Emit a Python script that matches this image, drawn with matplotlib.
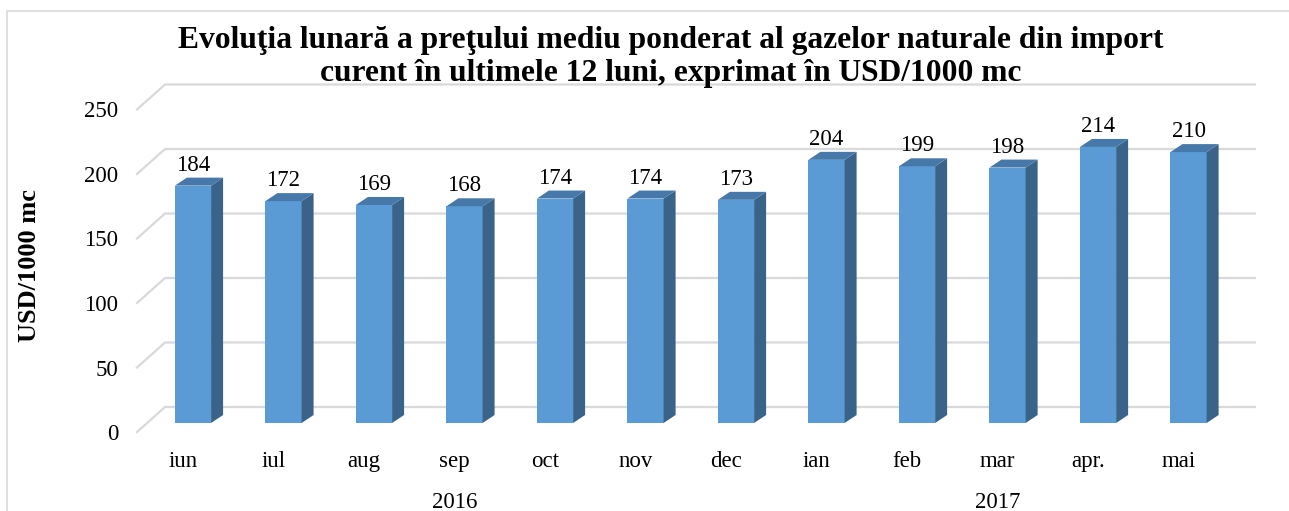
import numpy as np
import matplotlib
matplotlib.use("Agg")
import matplotlib.pyplot as plt
from matplotlib.patches import Polygon, Rectangle

# data
months = ["iun", "iul", "aug", "sep", "oct", "nov", "dec", "ian", "feb", "mar", "apr.", "mai"]
prices = [184, 172, 169, 168, 174, 174, 173, 204, 199, 198, 214, 210]
years = ["2016", "2017"]
year_spans = [(0, 6), (7, 11)]
yticks = [0, 50, 100, 150, 200, 250]

plt.rcParams["font.family"] = ["Liberation Serif", "DejaVu Serif"]

W, H = 1289, 511
fig = plt.figure(figsize=(W / 100, H / 100), dpi=100)

# front plane of the chart in pixels
left_px, right_px, zero_px, top_px = 137, 1255, 432, 100
px_per_unit = 1.29
ymax = (zero_px - top_px) / px_per_unit
ax = fig.add_axes([left_px / W, (H - zero_px) / H,
                   (right_px - left_px) / W, (zero_px - top_px) / H])
ax.set_xlim(-0.508, 11.845)
ax.set_ylim(0, ymax)
px_per_cat = (right_px - left_px) / (11.845 + 0.508)

def dx(px):
    return px / px_per_cat

def dy(px):
    return px / px_per_unit

front = "#5B9BD5"
side = "#3A6389"
top = "#4778AA"
grid = "#D9D9D9"

# slanted gridlines (floor/back wall)
x0, x1 = ax.get_xlim()
for v in yticks:
    ax.plot([x0, x0 + dx(28), x1], [v, v + dy(25), v + dy(25)],
            color=grid, lw=1.6, zorder=1, clip_on=False)

x = np.arange(len(months))
fdx, fdy = dx(10), dy(9)      # bar front face offset from front plane
ddx, ddy = dx(12), dy(8)      # bar depth
w = 0.4

ax.bar(x + fdx, prices, width=w, bottom=fdy, color=front, zorder=3, clip_on=False)
for xi, v in zip(x, prices):
    xl = xi + fdx - w / 2
    xr = xi + fdx + w / 2
    ax.add_patch(Polygon([(xr, fdy), (xr + ddx, fdy + ddy), (xr + ddx, fdy + ddy + v), (xr, fdy + v)],
                         closed=True, facecolor=side, edgecolor="none", zorder=3, clip_on=False))
    ax.add_patch(Polygon([(xl, fdy + v), (xr, fdy + v), (xr + ddx, fdy + v + ddy), (xl + ddx, fdy + v + ddy)],
                         closed=True, facecolor=top, edgecolor="none", zorder=3, clip_on=False))
    ax.annotate(str(v), xy=(xi + fdx, fdy + v + ddy), xytext=(0, 7), textcoords="offset pixels",
                ha="center", va="baseline", fontsize=16.5, zorder=4)

ax.set_yticks(yticks)
ax.set_xticks(x, months)
ax.tick_params(axis="y", length=0, pad=13.5, labelsize=16.5)
ax.tick_params(axis="x", length=0, pad=14, labelsize=16.5)
for s in ax.spines.values():
    s.set_visible(False)
ax.patch.set_visible(False)

for label, (a, b) in zip(years, year_spans):
    ax.annotate(label, xy=((a + b) / 2, 0), xytext=(0, -76), textcoords="offset pixels",
                ha="center", va="baseline", fontsize=16.5)

fig.text(671 / W, 1 - 48 / H, "Evoluţia lunară a preţului mediu ponderat al gazelor naturale din import",
         ha="center", va="baseline", fontsize=22.7, fontweight="bold")
fig.text(671 / W, 1 - 81 / H, "curent în ultimele 12 luni, exprimat în USD/1000 mc",
         ha="center", va="baseline", fontsize=22.7, fontweight="bold")
fig.text(30 / W, 1 - 266 / H, "USD/1000 mc", rotation=90, ha="center", va="center",
         fontsize=19, fontweight="bold")

fig.add_artist(Rectangle((7 / W, -0.1), 1.2, (H - 11) / H + 0.1, transform=fig.transFigure,
                         fill=False, edgecolor=grid, lw=1.2))

fig.savefig("out.png", dpi=100)
